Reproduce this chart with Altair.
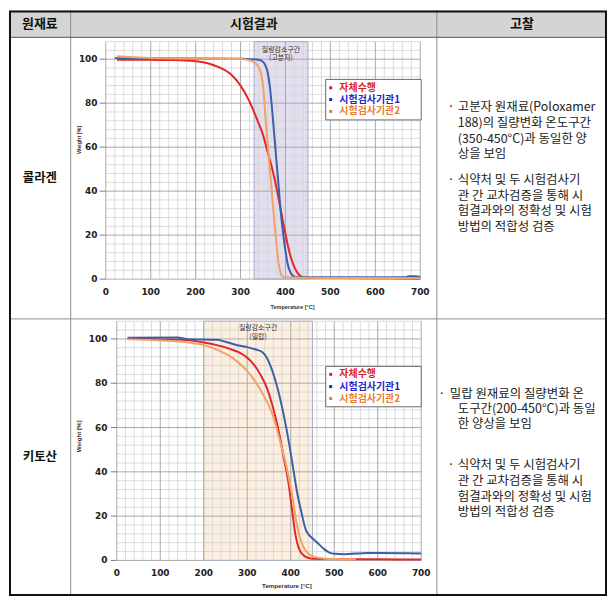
import altair as alt
import pandas as pd

KR = "Noto Sans CJK KR"

# ---------------- table texts ----------------
header_labels = ["원재료", "시험결과", "고찰"]
materials = ["콜라겐", "키토산"]

note1_p1 = ["고분자  원재료(Poloxamer", "188)의  질량변화  온도구간", "(350-450°C)과  동일한  양", "상을 보임"]
note1_p2 = ["식약처  및  두  시험검사기", "관  간  교차검증을  통해  시", "험결과와의  정확성  및  시험", "방법의 적합성 검증"]
note2_p1 = ["밀랍 원재료의 질량변화 온", "도구간(200-450°C)과  동일", "한 양상을 보임"]
note2_p2 = ["식약처  및  두  시험검사기", "관  간  교차검증을  통해  시", "험결과와의  정확성  및  시험", "방법의 적합성 검증"]

band_titles = ["질량감소구간", "질량감소구간"]
band_subtitles = ["(고분자)", "(밀랍)"]
band_ranges = [[330, 450], [200, 450]]

# ---------------- series ----------------
series_names = ["자체수행", "시험검사기관1", "시험검사기관2"]
line_colors = ["#e3262a", "#3f5fa5", "#f3a263"]
legend_colors = ["#e01f1f", "#2424c8", "#ec7d2f"]

x_ticks = [0, 100, 200, 300, 400, 500, 600, 700]
y_ticks = [0, 20, 40, 60, 80, 100]
x_tick_labels = ["0", "100", "200", "300", "400", "500", "600", "700"]
y_tick_labels = ["0", "20", "40", "60", "80", "100"]

# collagen (row 1)
c_red_t = [25, 100, 150, 200, 250, 280, 300, 320, 340, 350, 360, 370, 380, 390, 400, 410, 420, 430, 440, 460, 500, 600, 700]
c_red_w = [99.8, 99.7, 99.6, 99.1, 96.5, 92.8, 88.0, 80.7, 70.9, 65.6, 58.0, 50.5, 41.5, 31.0, 20.4, 11.3, 5.3, 2.0, 0.8, 0.5, 0.5, 0.4, 0.2]
c_blue_t = [20, 100, 200, 300, 340, 350, 355, 360, 365, 370, 375, 380, 385, 390, 395, 400, 405, 410, 420, 430, 500, 600, 665, 675, 690, 700]
c_blue_w = [100.5, 100.4, 100.3, 100.2, 99.8, 98.8, 97.3, 94.3, 88.0, 77.7, 65.6, 53.5, 41.5, 29.4, 20.4, 12.8, 6.8, 3.5, 1.1, 0.8, 0.8, 0.8, 0.8, 1.3, 1.3, 1.0]
c_orange_t = [25, 50, 100, 200, 300, 320, 330, 340, 345, 350, 355, 360, 365, 370, 375, 380, 385, 390, 395, 400, 450, 500, 600, 700]
c_orange_w = [101.3, 101.0, 100.6, 100.3, 100.1, 99.5, 98.5, 96.5, 94.0, 88.0, 75.0, 62.6, 50.5, 38.5, 26.4, 15.8, 6.8, 2.3, 1.0, 0.8, 0.6, 0.5, 0.5, 0.4]

# chitosan (row 2)
k_red_t = [25, 100, 150, 200, 230, 260, 280, 300, 315, 330, 345, 355, 365, 375, 385, 395, 400, 405, 410, 415, 420, 430, 440, 450, 500, 600, 700]
k_red_w = [100.2, 99.8, 99.6, 98.4, 97.2, 95.5, 94.0, 91.5, 88.5, 84.0, 78.0, 72.0, 64.6, 55.7, 45.2, 34.8, 27.3, 19.9, 12.4, 7.9, 4.9, 2.2, 1.2, 0.7, 0.6, 0.5, 0.4]
k_blue_t = [25, 140, 160, 200, 230, 250, 280, 300, 320, 335, 345, 355, 365, 375, 385, 395, 405, 415, 425, 435, 440, 450, 460, 475, 490, 500, 525, 550, 575, 600, 700]
k_blue_w = [100.5, 100.6, 100.0, 99.7, 99.6, 98.7, 97.0, 96.3, 95.2, 94.0, 91.5, 87.0, 81.0, 73.6, 64.6, 54.2, 42.2, 30.3, 21.3, 13.6, 12.0, 10.0, 8.2, 5.4, 3.4, 3.0, 2.8, 3.1, 3.3, 3.3, 3.1]
k_orange_t = [25, 100, 150, 200, 230, 260, 280, 300, 320, 340, 355, 365, 375, 385, 395, 405, 412, 420, 430, 440, 455, 475, 500, 550]
k_orange_w = [99.8, 99.3, 98.7, 97.2, 95.2, 92.2, 89.3, 85.5, 80.3, 73.6, 67.6, 61.6, 54.2, 46.7, 37.8, 27.3, 18.4, 10.9, 5.7, 3.1, 1.6, 0.9, 0.6, 0.5]

# ---------------- layout (reference pixel frame, shifted by the 5px table offset) ----------------
O = 5
TX = [5, 67, 435, 606]          # table column edges
TY = [5, 32, 315, 593.5]        # table row edges
W, H = TX[-1] - O, TY[-1] - O
LINE = "#8c8c8c"
ONE = pd.DataFrame({"z": [0]})


def px(v):
    return alt.value(v - O)


def text(label, x, y, size=12.5, weight="normal", color="#222", align="center", font=KR, angle=None):
    kw = dict(text=label, font=font, fontSize=size, fontWeight=weight, color=color,
              align=align, baseline="middle")
    if angle is not None:
        kw["angle"] = angle
    return alt.Chart(ONE).mark_text(**kw).encode(x=px(x), y=px(y))


def hrule(x0, x1, y, color=LINE, w=1):
    return alt.Chart(ONE).mark_rule(color=color, strokeWidth=w).encode(x=px(x0), x2=px(x1), y=px(y))


def vrule(x, y0, y1, color=LINE, w=1):
    return alt.Chart(ONE).mark_rule(color=color, strokeWidth=w).encode(x=px(x), y=px(y0), y2=px(y1))


def curves_df(ts, ws):
    rows = []
    for name, t, w in zip(series_names, ts, ws):
        for a, b in zip(t, w):
            rows.append({"series": name, "temp": a, "weight": b})
    return pd.DataFrame(rows)


def tga(df, band, band_fill, band_stroke, title, subtitle, g):
    xs = alt.Scale(domain=[0, 700], range=[g["x0"] - O, g["x1"] - O], nice=False, zero=False)
    ys = alt.Scale(domain=[0, 108], range=[g["y0"] - O, g["y1"] - O], nice=False, zero=False)
    X = lambda f: alt.X(f, scale=xs, axis=None)
    Y = lambda f: alt.Y(f, scale=ys, axis=None)

    minor_x = pd.DataFrame({"v": [v for v in range(0, 701, 20) if v % 100]})
    minor_y = pd.DataFrame({"v": [v for v in range(0, 109, 4) if v % 20]})
    major_x = pd.DataFrame({"v": x_ticks})
    major_y = pd.DataFrame({"v": y_ticks})
    bdf = pd.DataFrame({"t0": [band[0]], "t1": [band[1]], "lo": [0], "hi": [108],
                        "mid": [(band[0] + band[1]) / 2]})

    L = []
    L.append(alt.Chart(bdf).mark_rect(fill=band_fill).encode(x=X("t0:Q"), x2="t1:Q", y=Y("lo:Q"), y2="hi:Q"))
    L.append(alt.Chart(minor_x).mark_rule(color="#d6d6d6", strokeWidth=1, opacity=0.85).encode(
        x=X("v:Q"), y=px(g["y1"]), y2=px(g["y0"])))
    L.append(alt.Chart(minor_y).mark_rule(color="#d6d6d6", strokeWidth=1, opacity=0.85).encode(
        y=Y("v:Q"), x=px(g["x0"]), x2=px(g["x1"])))
    L.append(alt.Chart(major_x).mark_rule(color="#a9a9a9", strokeWidth=1).encode(
        x=X("v:Q"), y=px(g["y1"]), y2=px(g["y0"])))
    L.append(alt.Chart(major_y).mark_rule(color="#a9a9a9", strokeWidth=1).encode(
        y=Y("v:Q"), x=px(g["x0"]), x2=px(g["x1"])))
    L.append(alt.Chart(major_y).mark_rule(color="#7a7a7a", strokeWidth=1).encode(
        y=Y("v:Q"), x=px(g["x0"] - 6), x2=px(g["x0"])))
    L.append(alt.Chart(bdf).mark_rect(fill=None, stroke=band_stroke, strokeWidth=1).encode(
        x=X("t0:Q"), x2="t1:Q", y=Y("lo:Q"), y2="hi:Q"))
    L.append(alt.Chart(bdf).mark_text(text=title, font=KR, fontSize=7, color="#333", baseline="middle").encode(
        x=X("mid:Q"), y=px(g["ann_y"][0])))
    L.append(alt.Chart(bdf).mark_text(text=subtitle, font=KR, fontSize=7, color="#333", baseline="middle").encode(
        x=X("mid:Q"), y=px(g["ann_y"][1])))
    L.append(alt.Chart(df).mark_line(strokeWidth=2, interpolate="monotone").encode(
        x=X("temp:Q"), y=Y("weight:Q"),
        color=alt.Color("series:N", scale=alt.Scale(domain=series_names, range=line_colors), legend=None),
        detail="series:N"))
    xl = pd.DataFrame({"v": x_ticks, "lab": x_tick_labels})
    yl = pd.DataFrame({"v": y_ticks, "lab": y_tick_labels})
    L.append(alt.Chart(xl).mark_text(font="DejaVu Sans", fontSize=9, fontWeight="bold", color="#222",
                                     baseline="middle").encode(x=X("v:Q"), y=px(g["xlab_y"]), text="lab:N"))
    L.append(alt.Chart(yl).mark_text(font="DejaVu Sans", fontSize=9, fontWeight="bold", color="#222",
                                     align="right", baseline="middle").encode(y=Y("v:Q"), x=px(g["ylab_x"]), text="lab:N"))
    L.append(text("Temperature [°C]", g["xtitle"][0], g["xtitle"][1], size=g["tfs"], weight="bold",
                  color="#333", font="Liberation Sans"))
    L.append(text("Weight [%]", g["ytitle"][0], g["ytitle"][1], size=g["tfs"], weight="bold",
                  color="#333", font="Liberation Sans", angle=270))
    lx0, lx1, ly0, ly1 = g["legend"]
    L.append(alt.Chart(ONE).mark_rect(fill="white", stroke="#6b6b6b", strokeWidth=1).encode(
        x=px(lx0), x2=px(lx1), y=px(ly0), y2=px(ly1)))
    for name, col, yy in zip(series_names, legend_colors, g["leg_y"]):
        L.append(alt.Chart(ONE).mark_square(size=9, color=col, opacity=1).encode(x=px(g["leg_mx"]), y=px(yy)))
        L.append(text(name, g["leg_tx"], yy, size=10, weight="bold", color=col, align="left"))
    return alt.layer(*L)


g1 = dict(x0=102.3, x1=418.3, y0=275, y1=36.3, xlab_y=288.3, ylab_x=94, xtitle=(290, 302.7),
          ytitle=(75, 135), tfs=5.5, legend=(323.3, 419.3, 74.3, 115), leg_y=[82.7, 94.5, 106.5],
          leg_mx=328.3, leg_tx=337, ann_y=[44.5, 53])
g2 = dict(x0=113.3, x1=419.3, y0=557.7, y1=317.3, xlab_y=570.7, ylab_x=104, xtitle=(284.3, 583.7),
          ytitle=(75.7, 433), tfs=6.2, legend=(323.3, 419.3, 362.7, 403.3), leg_y=[370.7, 383, 395],
          leg_mx=328.3, leg_tx=337, ann_y=[324.5, 333])

df1 = curves_df([c_red_t, c_blue_t, c_orange_t], [c_red_w, c_blue_w, c_orange_w])
df2 = curves_df([k_red_t, k_blue_t, k_orange_t], [k_red_w, k_blue_w, k_orange_w])

plot1 = tga(df1, band_ranges[0], "#e3deef", "#9dafcf", band_titles[0], band_subtitles[0], g1)
plot2 = tga(df2, band_ranges[1], "#fcefe0", "#a8b6c9", band_titles[1], band_subtitles[1], g2)

# table frame + texts
frame = [
    alt.Chart(ONE).mark_rect(fill="#d4d4d4").encode(x=px(TX[0]), x2=px(TX[3]), y=px(TY[0]), y2=px(TY[1])),
]
lines = [
    vrule(TX[1], TY[0], TY[3]), vrule(TX[2], TY[0], TY[3]),
    hrule(TX[0], TX[3], TY[1], color="#555"), hrule(TX[0], TX[3], TY[2]),
    alt.Chart(ONE).mark_rect(fill=None, stroke="#111", strokeWidth=2).encode(
        x=px(TX[0] + 1), x2=px(TX[3] - 1), y=px(TY[0] + 1), y2=px(TY[3] - 1)),
]
texts = [
    text(header_labels[0], (TX[0] + TX[1]) / 2, (TY[0] + TY[1]) / 2, size=13, weight="bold", color="#111"),
    text(header_labels[1], (TX[1] + TX[2]) / 2, (TY[0] + TY[1]) / 2, size=13, weight="bold", color="#111"),
    text(header_labels[2], (TX[2] + TX[3]) / 2, (TY[0] + TY[1]) / 2, size=13, weight="bold", color="#111"),
    text(materials[0], (TX[0] + TX[1]) / 2, (TY[1] + TY[2]) / 2, size=12.5, weight="bold", color="#111"),
    text(materials[1], (TX[0] + TX[1]) / 2, (TY[2] + TY[3]) / 2, size=12.5, weight="bold", color="#111"),
]


def para(lines_, ys, bullet_x, first_x, rest_x):
    out = [text("·", bullet_x, ys[0], size=12.5)]
    for i, (yy, ln) in enumerate(zip(ys, lines_)):
        out.append(text(ln, first_x if i == 0 else rest_x, yy, size=12.5, align="left"))
    return out


texts += para(note1_p1, [101.7, 118.3, 134, 149.3], 449.3, 456, 456)
texts += para(note1_p2, [175.7, 191.7, 206.7, 222.7], 449.3, 456, 456)
texts += para(note2_p1, [390, 406, 420.7], 440, 448, 456)
texts += para(note2_p2, [462.3, 478.3, 494, 509.3], 449.3, 456, 456)

chart = alt.layer(*frame, plot1, plot2, *lines, *texts).resolve_scale(
    x="independent", y="independent").properties(
    width=W, height=H, padding=0,
    view=alt.ViewBackground(fill="white", stroke=None)).configure(background="white")

chart.save("out.html", embed_options={"renderer": "svg", "actions": False})
